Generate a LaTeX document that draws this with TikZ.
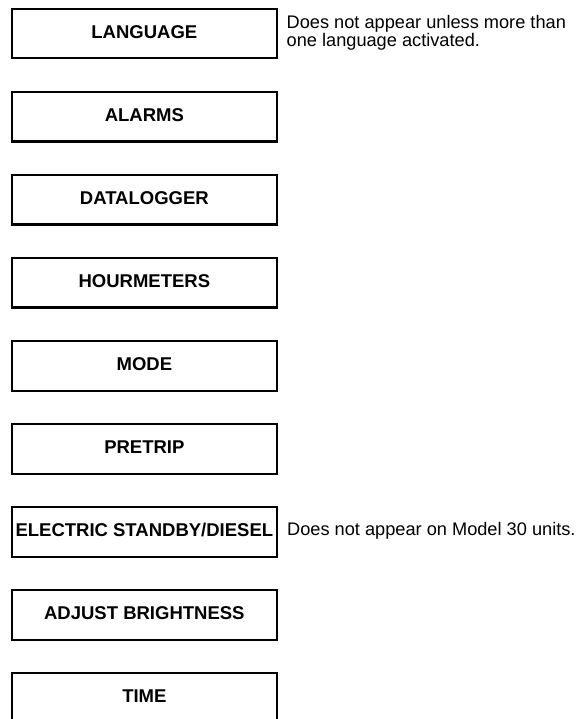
\documentclass[tikz,border=0pt]{standalone}
\usepackage{fontspec}
\setmainfont{Liberation Sans}
\begin{document}
\begin{tikzpicture}[x=1pt,y=-1pt,
  menubox/.style={draw=black,line width=2.2pt,minimum width=265.5pt,minimum height=49.5pt,inner sep=0pt,anchor=north west,font=\fontsize{18.5}{20}\selectfont\bfseries,text height=13.2pt,text depth=4pt},
  note/.style={anchor=base west,inner sep=0pt,font=\fontsize{18.2}{20.5}\selectfont}]
\useasboundingbox (0,0) rectangle (582,719);
\clip (0,0) rectangle (582,719);
\node[menubox] (lang) at (10.5,7.8) {LANGUAGE};
\node[menubox] (alarms) at (10.5,90.86) {ALARMS};
\node[menubox] (dlog) at (10.5,173.92) {DATALOGGER};
\node[menubox] (hour) at (10.5,256.98) {HOURMETERS};
\node[menubox] (mode) at (10.5,340.04) {MODE};
\node[menubox] (pretrip) at (10.5,423.1) {PRETRIP};
\node[menubox] (elec) at (10.5,506.16) {ELECTRIC STANDBY/DIESEL};
\node[menubox] (adj) at (10.5,589.22) {ADJUST BRIGHTNESS};
\node[menubox] (time) at (10.5,672.28) {TIME};
\node[note] (langnoteA) at (286.5,28.5) {Does not appear unless more than};
\node[note] (langnoteB) at (286.5,46.8) {one language activated.};
\node[note] (elecnote) at (287,535.7) {Does not appear on Model 30 units.};
\end{tikzpicture}
\end{document}
